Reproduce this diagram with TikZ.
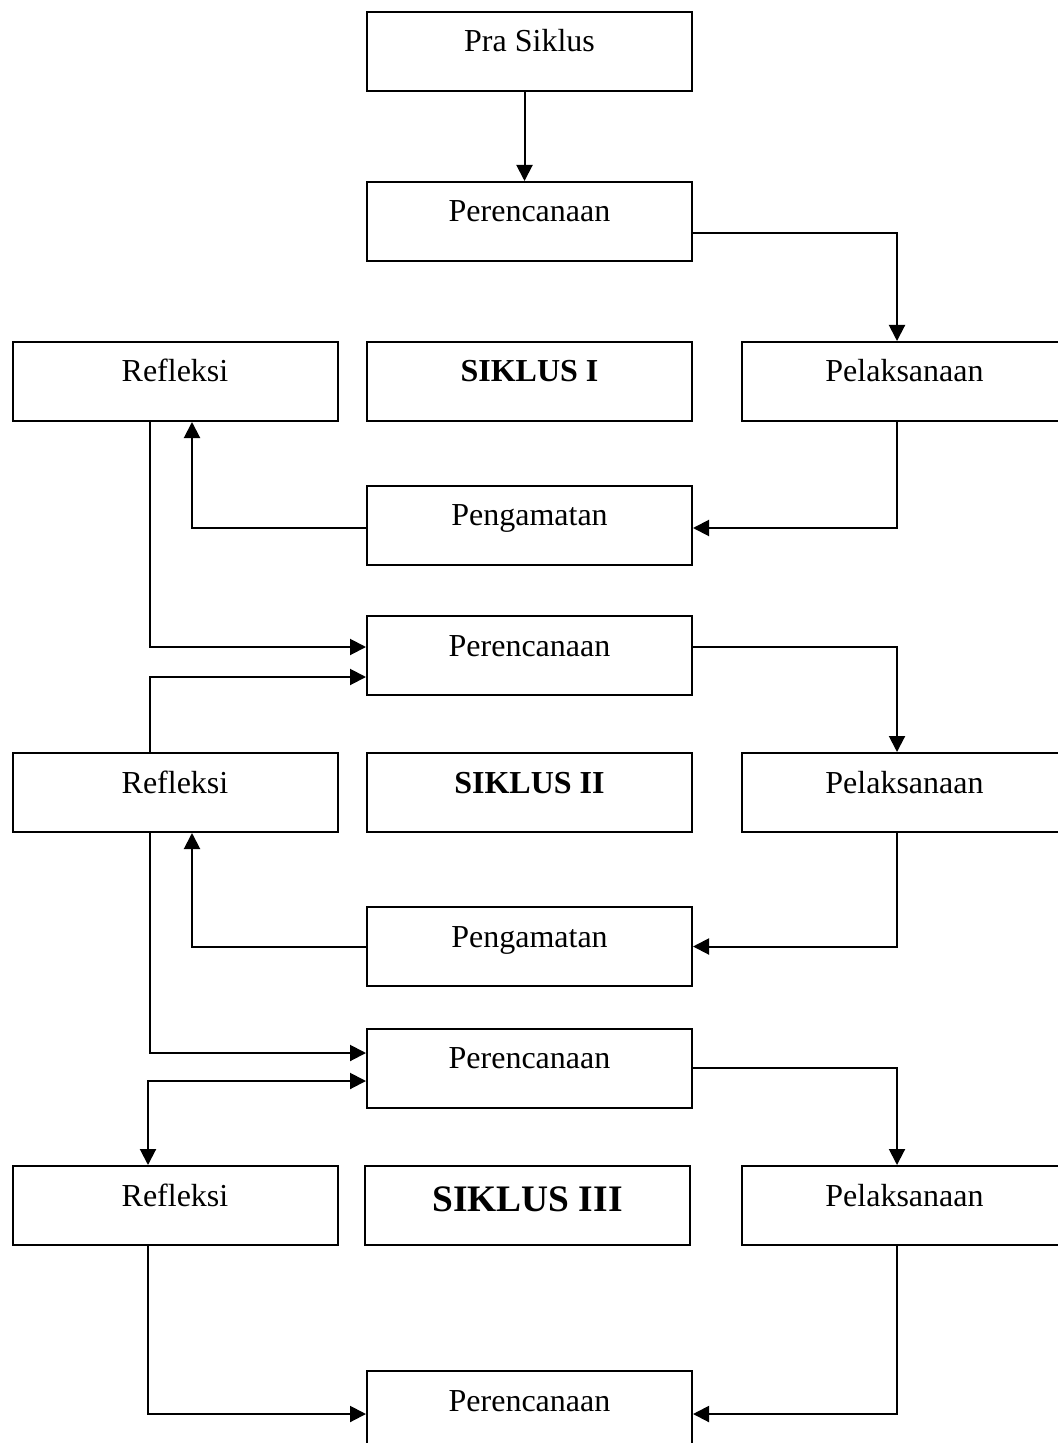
\documentclass[tikz,border=0pt]{standalone}
\usepackage{fontspec}
\setmainfont{Liberation Serif}
\usetikzlibrary{calc}
\usetikzlibrary{arrows.meta}

\tikzset{
  kotak/.style={draw,line width=1pt,rectangle,inner sep=0pt,minimum width=162.5pt,
    text height=20pt,text depth=19.5pt,font=\fontsize{16}{19}\selectfont},
  panah/.style={line width=1pt,-{Triangle[length=8pt,width=8pt]}},
  panahdua/.style={line width=1pt,{Triangle[length=8pt,width=8pt]}-{Triangle[length=8pt,width=8pt]}}
}

\begin{document}
\begin{tikzpicture}[x=0.5pt,y=-0.5pt]
\useasboundingbox (0,0) rectangle (1058,1443);
\node[kotak] (pra) at (529.5,51.5) {Pra Siklus};
\node[kotak] (per1) at (529.5,221.5) {Perencanaan};
\node[kotak] (ref1) at (175,381.5) {Refleksi};
\node[kotak] (sik1) at (529.5,381.5) {\textbf{SIKLUS I}};
\node[kotak] (pel1) at (904.5,381.5) {Pelaksanaan};
\node[kotak] (pen1) at (529.5,525) {Pengamatan};
\node[kotak] (per2) at (529.5,655.5) {Perencanaan};
\node[kotak] (ref2) at (175,792.5) {Refleksi};
\node[kotak] (sik2) at (529.5,792.5) {\textbf{SIKLUS II}};
\node[kotak] (pel2) at (904.5,792.5) {Pelaksanaan};
\node[kotak] (pen2) at (529.5,946.5) {Pengamatan};
\node[kotak] (per3) at (529.5,1068) {Perencanaan};
\node[kotak] (ref3) at (175,1205.5) {Refleksi};
\node[kotak,text height=22.5pt,text depth=17pt,font=\fontsize{18.7}{22}\selectfont\bfseries] (sik3) at (527.5,1205.5) {SIKLUS III};
\node[kotak] (pel3) at (904.5,1205.5) {Pelaksanaan};
\node[kotak] (per4) at (529.5,1410.5) {Perencanaan};
% siklus I
\draw[panah] ($(pra.south)+(-5,0)$) -- ($(per1.north)+(-5,0)$);
\draw[panah] ($(per1.east)+(0,11.5)$) -| ($(pel1.north)+(-7.5,0)$);
\draw[panah] ($(pel1.south)+(-7.5,0)$) |- ($(pen1.east)+(0,3)$);
\draw[panah] ($(pen1.west)+(0,3)$) -| ($(ref1.south)+(17,0)$);
\draw[panah] ($(ref1.south)+(-25,0)$) |- ($(per2.west)+(0,-8.5)$);
% siklus II
\draw[panah] ($(per2.east)+(0,-8.5)$) -| ($(pel2.north)+(-7.5,0)$);
\draw[panah] ($(ref2.north)+(-25,0)$) |- ($(per2.west)+(0,21.5)$);
\draw[panah] ($(pel2.south)+(-7.5,0)$) |- (pen2.east);
\draw[panah] (pen2.west) -| ($(ref2.south)+(17,0)$);
\draw[panah] ($(ref2.south)+(-25,0)$) |- ($(per3.west)+(0,-15)$);
% siklus III
\draw[panahdua] ($(ref3.north)+(-27,0)$) |- ($(per3.west)+(0,13)$);
\draw[panah] (per3.east) -| ($(pel3.north)+(-7.5,0)$);
\draw[panah] ($(ref3.south)+(-27,0)$) |- ($(per4.west)+(0,3.5)$);
\draw[panah] ($(pel3.south)+(-7.5,0)$) |- ($(per4.east)+(0,3.5)$);
\end{tikzpicture}
\end{document}
